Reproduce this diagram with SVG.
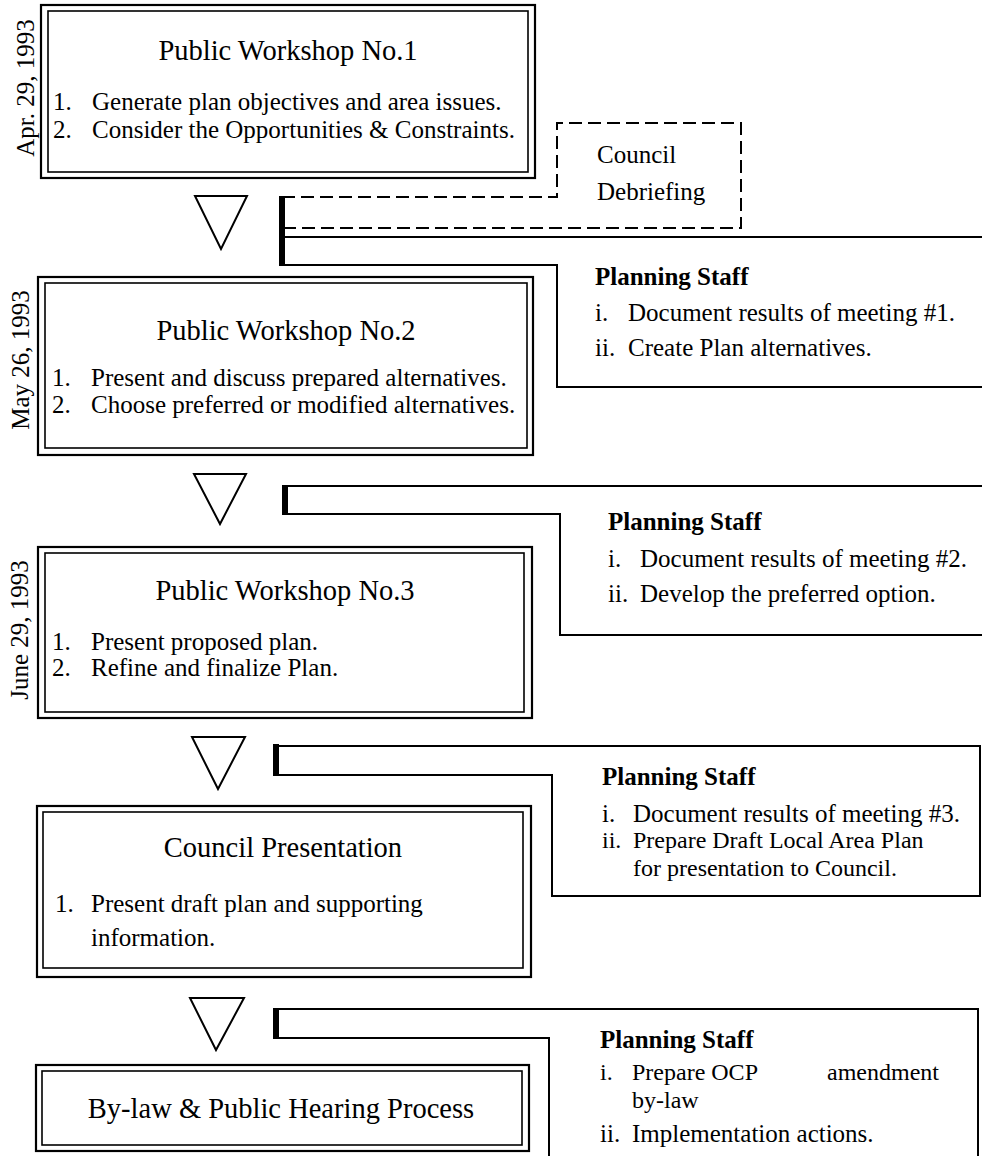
<svg xmlns="http://www.w3.org/2000/svg" width="982" height="1156" viewBox="0 0 982 1156">
<style>
text{font-family:"Liberation Serif","DejaVu Serif",serif;fill:#000}
.t{font-size:28.5px;text-anchor:middle}
.i{font-size:25px}
.s{font-size:24px}
.b{font-size:25px;font-weight:bold}
.d{font-size:25px;text-anchor:middle}
.o{fill:none;stroke:#000;stroke-width:2.2}
.n{fill:none;stroke:#000;stroke-width:1.6}
.ln{fill:none;stroke:#000;stroke-width:2}
.ds{fill:none;stroke:#000;stroke-width:2;stroke-dasharray:13 6}
.bar{fill:#000}
.tri{fill:#fff;stroke:#000;stroke-width:2;stroke-linejoin:miter}
</style>
<rect width="982" height="1156" fill="#fff"/>

<g id="connectors">
<polygon class="tri" points="195,196 247,196 221,249"/>
<polygon class="tri" points="194,474 246,474 220,524"/>
<polygon class="tri" points="192,737 245,737 218,789"/>
<polygon class="tri" points="190,998 244,998 216,1050"/>
</g>

<g id="workshop1">
<rect class="o" x="41" y="5" width="494" height="173"/>
<rect class="n" x="48" y="11" width="480" height="161"/>
<text class="d" transform="translate(34,88) rotate(-90)">Apr. 29, 1993</text>
<text class="t" x="288" y="60">Public Workshop No.1</text>
<text class="i" x="53" y="110">1.</text><text class="i" x="92" y="110">Generate plan objectives and area issues.</text>
<text class="i" x="53" y="138">2.</text><text class="i" x="92" y="138">Consider the Opportunities &amp; Constraints.</text>
</g>

<g id="council-debriefing">
<path class="ds" d="M282,197 H557 V123 H741 V228 H282"/>
<text class="i" x="597" y="163">Council</text>
<text class="i" x="597" y="200">Debriefing</text>
</g>

<g id="staff1">
<rect class="bar" x="279" y="196" width="6" height="70"/>
<path class="ln" d="M982,237 H282 V265 H557 V387 H982"/>
<text class="b" x="595" y="285">Planning Staff</text>
<text class="i" x="595" y="321">i.</text><text class="i" x="628" y="321">Document results of meeting #1.</text>
<text class="i" x="595" y="356">ii.</text><text class="i" x="628" y="356">Create Plan alternatives.</text>
</g>

<g id="workshop2">
<rect class="o" x="38" y="277" width="495" height="178"/>
<rect class="n" x="45" y="283" width="482" height="165"/>
<text class="d" transform="translate(29,360) rotate(-90)">May 26, 1993</text>
<text class="t" x="286" y="340">Public Workshop No.2</text>
<text class="i" x="52" y="386">1.</text><text class="i" x="91" y="386">Present and discuss prepared alternatives.</text>
<text class="i" x="52" y="413">2.</text><text class="i" x="91" y="413">Choose preferred or modified alternatives.</text>
</g>

<g id="staff2">
<rect class="bar" x="282" y="485" width="6" height="30"/>
<path class="ln" d="M982,486 H284 V514 H560 V635 H982"/>
<text class="b" x="608" y="530">Planning Staff</text>
<text class="i" x="608" y="567">i.</text><text class="i" x="640" y="567">Document results of meeting #2.</text>
<text class="i" x="608" y="602">ii.</text><text class="i" x="640" y="602">Develop the preferred option.</text>
</g>

<g id="workshop3">
<rect class="o" x="38" y="547" width="494" height="171"/>
<rect class="n" x="45" y="553" width="479" height="159"/>
<text class="d" transform="translate(28,630) rotate(-90)">June 29, 1993</text>
<text class="t" x="285" y="600">Public Workshop No.3</text>
<text class="i" x="52" y="650">1.</text><text class="i" x="91" y="650">Present proposed plan.</text>
<text class="i" x="52" y="676">2.</text><text class="i" x="91" y="676">Refine and finalize Plan.</text>
</g>

<g id="staff3">
<rect class="bar" x="273" y="744" width="6" height="32"/>
<path class="ln" d="M980,746 H275 V775 H552 V896 H980 Z"/>
<text class="b" x="602" y="785">Planning Staff</text>
<text class="i" x="602" y="822">i.</text><text class="i" x="633" y="822">Document results of meeting #3.</text>
<text class="s" x="602" y="848">ii.</text><text class="s" x="633" y="848">Prepare Draft Local Area Plan</text>
<text class="s" x="633" y="876">for presentation to Council.</text>
</g>

<g id="council-presentation">
<rect class="o" x="37" y="806" width="494" height="171"/>
<rect class="n" x="43" y="812" width="480" height="156"/>
<text class="t" x="283" y="857">Council Presentation</text>
<text class="i" x="55" y="912">1.</text><text class="i" x="91" y="912">Present draft plan and supporting</text>
<text class="i" x="91" y="946">information.</text>
</g>

<g id="staff4">
<rect class="bar" x="273" y="1008" width="6" height="31"/>
<path class="ln" d="M978,1156 V1009 H275 V1038 H549 V1156"/>
<text class="b" x="600" y="1048">Planning Staff</text>
<text class="s" x="600" y="1080">i.</text><text class="s" x="632" y="1080">Prepare OCP</text><text class="s" x="827" y="1080">amendment</text>
<text class="s" x="632" y="1108">by-law</text>
<text class="i" x="600" y="1142">ii.</text><text class="i" x="632" y="1142">Implementation actions.</text>
</g>

<g id="bylaw">
<rect class="o" x="36" y="1065" width="493" height="86"/>
<rect class="n" x="42" y="1071" width="480" height="74"/>
<text class="t" x="281" y="1118">By-law &amp; Public Hearing Process</text>
</g>
</svg>
